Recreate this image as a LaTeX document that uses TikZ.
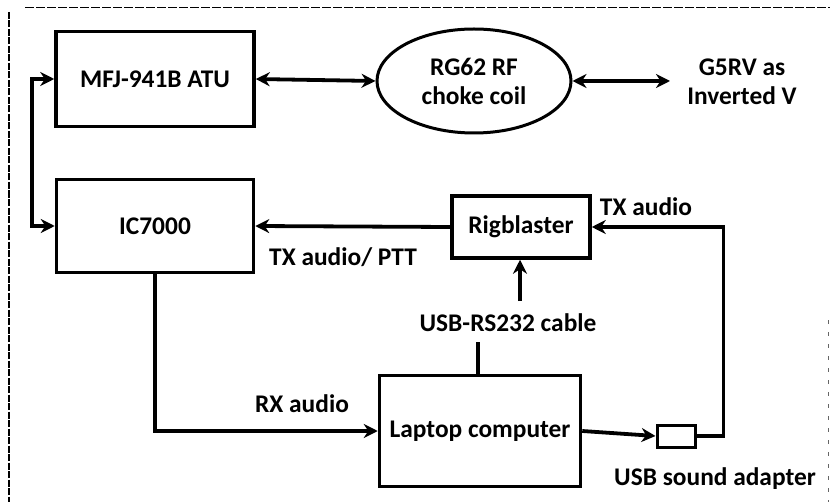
\documentclass[tikz,border=0pt]{standalone}
\usepackage{fontspec}
\setmainfont{Carlito}
\usetikzlibrary{arrows.meta,shapes.geometric}
\begin{document}
\begin{tikzpicture}[x=1bp,y=-1bp,
  box/.style={draw,line width=3.5bp,inner sep=0pt,align=center,font=\fontsize{25.5}{29}\selectfont\bfseries},
  conn/.style={line width=3.8bp},
  arr/.style={-{Stealth[length=14bp,width=14bp]}},
  barr/.style={{Stealth[length=14bp,width=14bp]}-{Stealth[length=14bp,width=14bp]}},
  lbl/.style={inner sep=0pt,align=center,font=\fontsize{25.5}{29}\selectfont\bfseries},
  frame/.style={line width=1.6bp,dash pattern=on 7bp off 1.5bp}]
\useasboundingbox (0,0) rectangle (830,502);
% frame
\draw[line width=1bp,dash pattern=on 9bp off 2bp] (25,8) -- (830,8);
\draw[frame] (9,12) -- (9,502);
\draw[line width=0.8bp,dash pattern=on 4bp off 8bp,black!60] (828,320) -- (828,502);
% nodes
\node[box,minimum width=198bp,minimum height=95bp] (mfj) at (155,79) {MFJ-941B ATU};
\node[box,minimum width=197bp,minimum height=93bp] (ic) at (155,226) {IC7000};
\node[box,ellipse,line width=3bp,minimum width=194bp,minimum height=104bp] (choke) at (474,81) {RG62 RF\\choke coil};
\node[lbl] (g5rv) at (742,82) {G5RV as\\Inverted V};
\node[box,minimum width=138bp,minimum height=62bp] (rig) at (521,227) {Rigblaster};
\node[box,minimum width=201bp,minimum height=111bp] (lap) at (480,431) {Laptop computer};
\node[draw,line width=3bp,minimum width=38bp,minimum height=22bp,inner sep=0pt] (snd) at (676,436) {};
% labels
\node[lbl] (ltxptt) at (343,257) {TX audio/ PTT};
\node[lbl] (ltx) at (646,207) {TX audio};
\node[lbl] (lrx) at (302,404) {RX audio};
\node[lbl] (lrs) at (508,323) {USB-RS232 cable};
\node[lbl] (lsnd) at (715,479) {USB sound adapter};
\coordinate (g5end) at (670,81);
\coordinate (rsup) at (520,301);
% connectors
\draw[conn,barr] (mfj.east) -- (choke.west);
\draw[conn,barr] (choke.east) -- (g5end);
\draw[conn,barr] (mfj.west) -- ++(-22,0) |- (ic.west);
\draw[conn,arr] (rig.west) -- (ic.east);
\draw[conn,arr] (ic.south) |- (lap.west);
\draw[conn] (lap.north) ++(-2,0) -- ++(0,-32);
\draw[conn,arr] (rsup) -- (rsup |- rig.south);
\draw[conn,arr] (lap.east) -- (snd.west);
\draw[conn,arr] (snd.east) -- ++(27,0) |- (rig.east);
\end{tikzpicture}
\end{document}
